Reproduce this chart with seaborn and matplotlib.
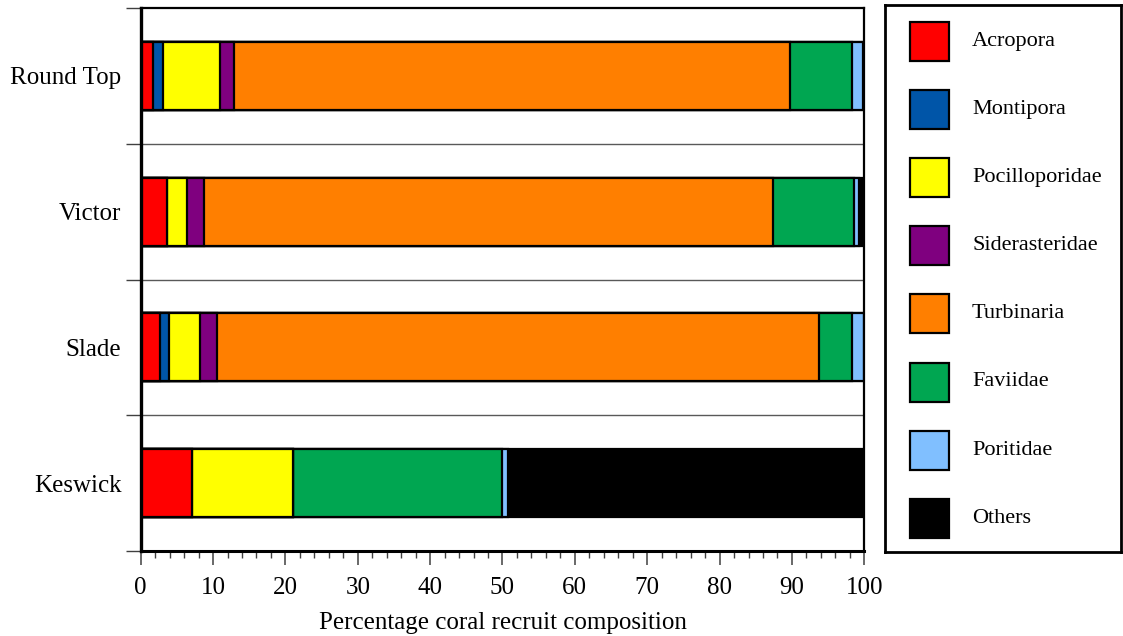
import seaborn as sns
import matplotlib.pyplot as plt
import matplotlib.patches as mpatches
import pandas as pd
import numpy as np

# data (percent of recruits per site)
sites = ["Round Top", "Victor", "Slade", "Keswick"]
taxa = ["Acropora", "Montipora", "Pocilloporidae", "Siderasteridae",
        "Turbinaria", "Faviidae", "Poritidae", "Others"]
round_top = [1.7, 1.4, 7.8, 2.0, 76.8, 8.6, 1.5, 0.2]
victor = [3.6, 0.0, 2.8, 2.3, 78.7, 11.2, 0.6, 0.8]
slade = [2.7, 1.2, 4.3, 2.4, 83.1, 4.6, 1.7, 0.0]
keswick = [7.1, 0.0, 13.9, 0.0, 0.0, 29.0, 0.8, 49.2]
colours = ["#ff0000", "#0055a8", "#ffff00", "#7f007f",
           "#ff7f00", "#00a651", "#80bfff", "#000000"]

sns.set_theme(style="ticks")
plt.rcParams["font.family"] = ["Liberation Serif", "DejaVu Serif"]
plt.rcParams["text.color"] = "black"
plt.rcParams["axes.labelcolor"] = "black"
plt.rcParams["xtick.labelcolor"] = "black"
plt.rcParams["ytick.labelcolor"] = "black"

##long table with cumulative ends of each segment
df = pd.DataFrame([round_top, victor, slade, keswick], index=sites, columns=taxa)
cum = df.cumsum(axis=1)
long = cum.reset_index().melt(id_vars="index", var_name="taxon", value_name="end")
long = long.rename(columns={"index": "site"})

fig = plt.figure(figsize=(11.23, 6.36), dpi=100)
ax = fig.add_axes([140.7 / 1123, 1 - 551 / 636, (864.3 - 140.7) / 1123, 543 / 636])

##draw from the last taxon backwards so shorter bars sit on top
for taxon, col in zip(taxa[::-1], colours[::-1]):
    sub = long[long["taxon"] == taxon]
    sns.barplot(ax=ax, data=sub, x="end", y="site", order=sites, orient="h",
                color=col, saturation=1, width=0.5, edgecolor="black",
                linewidth=1.6, errorbar=None)

ax.set_xlim(0, 100)
ax.set_ylim(3.5, -0.5)
for yb in [0.5, 1.5, 2.5]:
    ax.axhline(yb, color="0.35", lw=1.0, zorder=0)

ax.set_xticks(np.arange(0, 101, 10))
ax.set_xticks(np.arange(0, 101, 2), minor=True)
ax.set_yticks(range(len(sites)))
ax.set_yticklabels(sites)
ax.set_yticks([-0.5, 0.5, 1.5, 2.5, 3.5], minor=True)
ax.tick_params(axis="x", which="major", direction="out", length=10, width=1.1,
               labelsize=18, pad=9, color="0.25", labelcolor="black")
ax.tick_params(axis="x", which="minor", direction="out", length=5, width=1.0, color="0.25")
ax.tick_params(axis="y", which="major", length=0, labelsize=18, pad=14, labelcolor="black")
ax.tick_params(axis="y", which="minor", direction="out", length=11, width=1.0, color="0.25")
ax.set_xlabel("Percentage coral recruit composition", fontsize=18, labelpad=9, color="black")
ax.set_ylabel("")
for side in ["top", "right", "bottom", "left"]:
    ax.spines[side].set_visible(True)
    ax.spines[side].set_linewidth(1.6)
    ax.spines[side].set_color("black")
ax.spines["left"].set_linewidth(2.4)
ax.spines["bottom"].set_linewidth(2.2)

##legend drawn by hand in its own framed box (pixel units inside the box)
lax = fig.add_axes([885 / 1123, 1 - 552 / 636, 236 / 1123, 547 / 636])
lax.set_xlim(0, 236)
lax.set_ylim(547, 0)
lax.set_xticks([])
lax.set_yticks([])
for side in ["top", "right", "bottom", "left"]:
    lax.spines[side].set_linewidth(2.0)
    lax.spines[side].set_color("black")
for i, (t, c) in enumerate(zip(taxa, colours)):
    top = 17 + 68.1 * i
    lax.add_patch(mpatches.Rectangle((25, top), 39, 39, facecolor=c,
                                     edgecolor="black", linewidth=1.6))
    lax.text(87, top + 19.5, t, fontsize=16, va="center", ha="left", color="black")

fig.savefig("out.png", dpi=100)
